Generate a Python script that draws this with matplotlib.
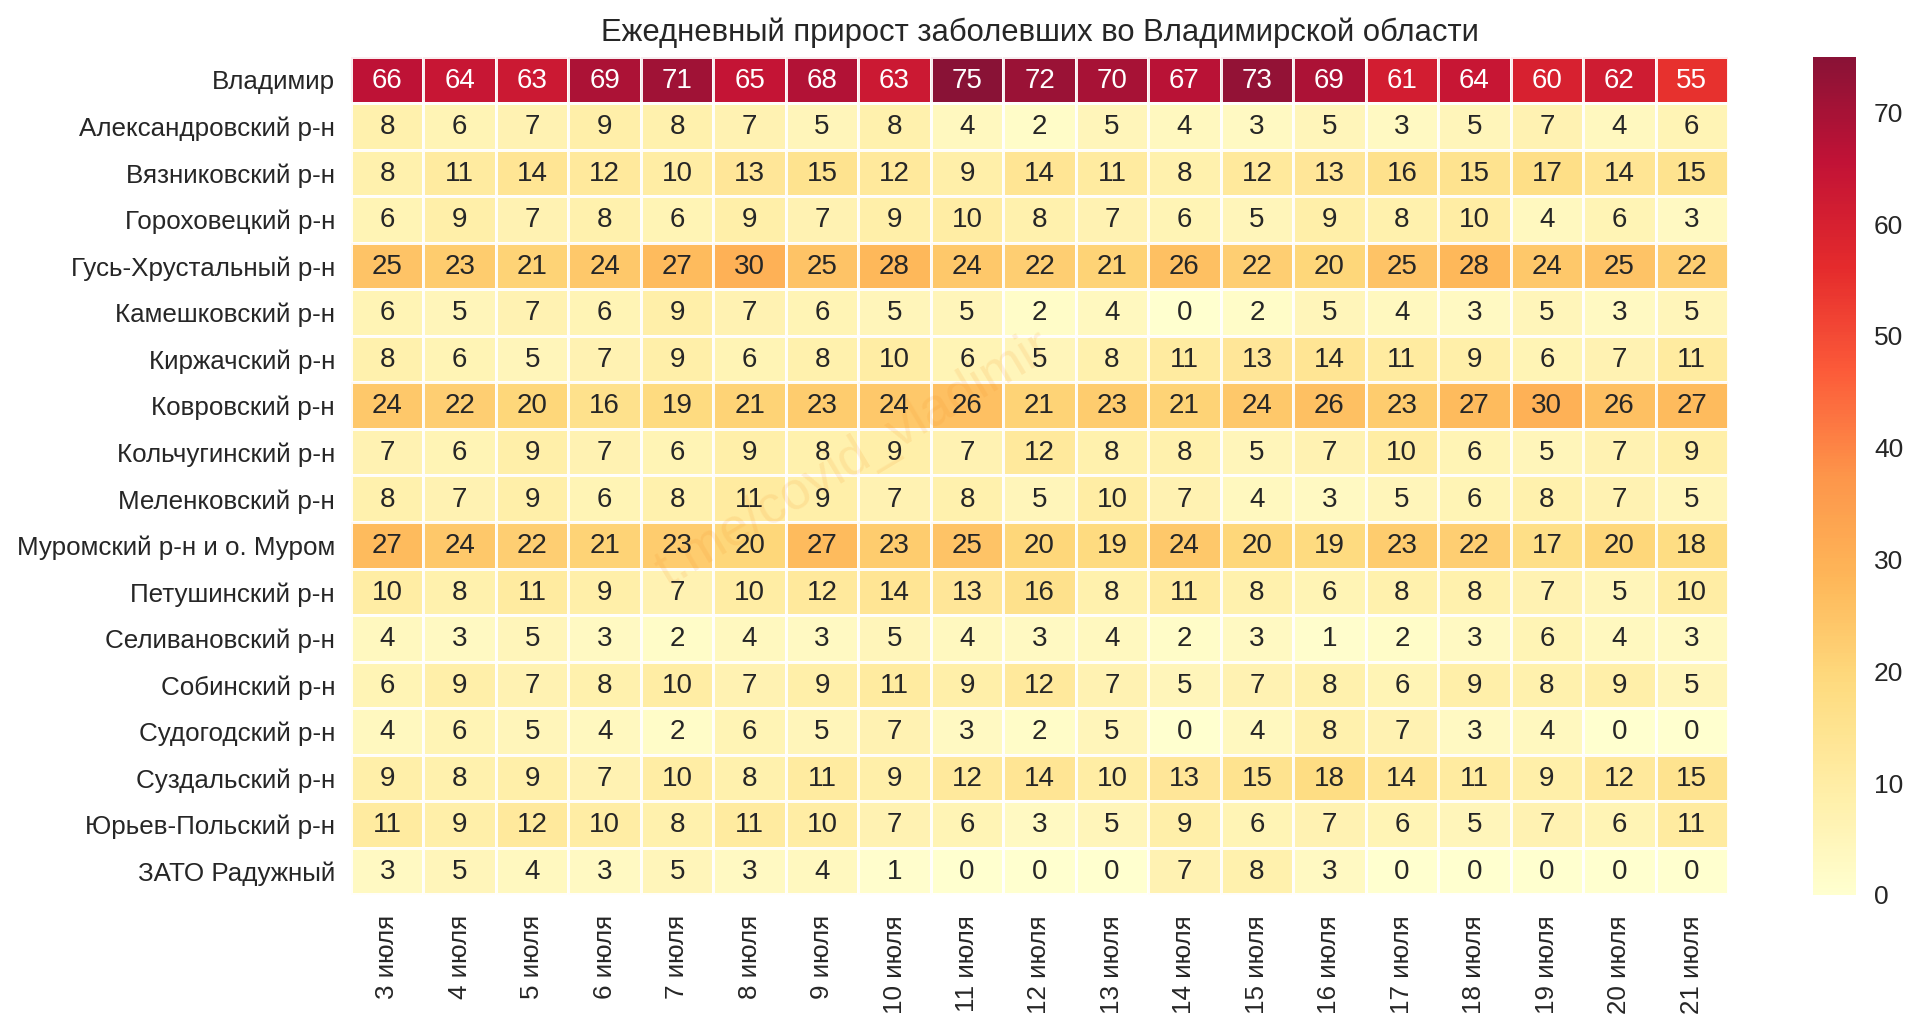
import matplotlib
matplotlib.use("Agg")
import matplotlib.pyplot as plt
from matplotlib.transforms import ScaledTranslation
import numpy as np
import pandas as pd
import seaborn as sns

districts = ["Владимир", "Александровский р-н", "Вязниковский р-н", "Гороховецкий р-н",
             "Гусь-Хрустальный р-н", "Камешковский р-н", "Киржачский р-н", "Ковровский р-н",
             "Кольчугинский р-н", "Меленковский р-н", "Муромский р-н и о. Муром", "Петушинский р-н",
             "Селивановский р-н", "Собинский р-н", "Судогодский р-н", "Суздальский р-н",
             "Юрьев-Польский р-н", "ЗАТО Радужный"]
dates = ["3 июля", "4 июля", "5 июля", "6 июля", "7 июля", "8 июля", "9 июля", "10 июля", "11 июля",
         "12 июля", "13 июля", "14 июля", "15 июля", "16 июля", "17 июля", "18 июля", "19 июля",
         "20 июля", "21 июля"]
vladimir = [66, 64, 63, 69, 71, 65, 68, 63, 75, 72, 70, 67, 73, 69, 61, 64, 60, 62, 55]
alexandrov = [8, 6, 7, 9, 8, 7, 5, 8, 4, 2, 5, 4, 3, 5, 3, 5, 7, 4, 6]
vyazniki = [8, 11, 14, 12, 10, 13, 15, 12, 9, 14, 11, 8, 12, 13, 16, 15, 17, 14, 15]
gorokhovets = [6, 9, 7, 8, 6, 9, 7, 9, 10, 8, 7, 6, 5, 9, 8, 10, 4, 6, 3]
gus = [25, 23, 21, 24, 27, 30, 25, 28, 24, 22, 21, 26, 22, 20, 25, 28, 24, 25, 22]
kameshkovo = [6, 5, 7, 6, 9, 7, 6, 5, 5, 2, 4, 0, 2, 5, 4, 3, 5, 3, 5]
kirzhach = [8, 6, 5, 7, 9, 6, 8, 10, 6, 5, 8, 11, 13, 14, 11, 9, 6, 7, 11]
kovrov = [24, 22, 20, 16, 19, 21, 23, 24, 26, 21, 23, 21, 24, 26, 23, 27, 30, 26, 27]
kolchugino = [7, 6, 9, 7, 6, 9, 8, 9, 7, 12, 8, 8, 5, 7, 10, 6, 5, 7, 9]
melenki = [8, 7, 9, 6, 8, 11, 9, 7, 8, 5, 10, 7, 4, 3, 5, 6, 8, 7, 5]
murom = [27, 24, 22, 21, 23, 20, 27, 23, 25, 20, 19, 24, 20, 19, 23, 22, 17, 20, 18]
petushki = [10, 8, 11, 9, 7, 10, 12, 14, 13, 16, 8, 11, 8, 6, 8, 8, 7, 5, 10]
selivanovo = [4, 3, 5, 3, 2, 4, 3, 5, 4, 3, 4, 2, 3, 1, 2, 3, 6, 4, 3]
sobinka = [6, 9, 7, 8, 10, 7, 9, 11, 9, 12, 7, 5, 7, 8, 6, 9, 8, 9, 5]
sudogda = [4, 6, 5, 4, 2, 6, 5, 7, 3, 2, 5, 0, 4, 8, 7, 3, 4, 0, 0]
suzdal = [9, 8, 9, 7, 10, 8, 11, 9, 12, 14, 10, 13, 15, 18, 14, 11, 9, 12, 15]
yuryev = [11, 9, 12, 10, 8, 11, 10, 7, 6, 3, 5, 9, 6, 7, 6, 5, 7, 6, 11]
raduzhny = [3, 5, 4, 3, 5, 3, 4, 1, 0, 0, 0, 7, 8, 3, 0, 0, 0, 0, 0]

rows = [vladimir, alexandrov, vyazniki, gorokhovets, gus, kameshkovo, kirzhach, kovrov, kolchugino,
        melenki, murom, petushki, selivanovo, sobinka, sudogda, suzdal, yuryev, raduzhny]
table = pd.DataFrame(rows, index=districts, columns=dates)

sns.set_theme(style="white")
plt.rcParams["font.family"] = ["Liberation Sans", "DejaVu Sans"]
W, H = 1920, 1030
fig = plt.figure(figsize=(W / 100, H / 100), dpi=100)
ax = fig.add_axes([351 / W, 1 - 894.5 / H, (1728 - 351) / W, (894.5 - 56.5) / H])
cax = fig.add_axes([1813 / W, 1 - 895 / H, 43 / W, (895 - 56.5) / H])

sns.heatmap(table, ax=ax, cbar_ax=cax, cmap="YlOrRd", vmin=0, vmax=75, alpha=0.93, annot=True, fmt="d",
            annot_kws={"fontsize": 20}, linewidths=2, linecolor="white",
            cbar_kws={"ticks": [0, 10, 20, 30, 40, 50, 60, 70]})
ax.set_title("Ежедневный прирост заболевших во Владимирской области", fontsize=22.3, color="#262626", pad=11)
ax.tick_params(axis="both", length=0, labelsize=18.75, labelcolor="#262626")
ax.tick_params(axis="x", pad=15)
ax.tick_params(axis="y", pad=11.5)
plt.setp(ax.get_xticklabels(), rotation=90)
plt.setp(ax.get_yticklabels(), rotation=0)
down = ScaledTranslation(0, -2.5 / 100, fig.dpi_scale_trans)
for label in ax.get_yticklabels():
    label.set_transform(label.get_transform() + down)
nudge = ScaledTranslation(0, -0.8 / 100, fig.dpi_scale_trans)
for label in ax.texts:
    label.set_transform(label.get_transform() + nudge)
cax.tick_params(length=0, labelsize=19, labelcolor="#262626", pad=13)
ax.text(0.365, 0.519, "t.me/covid_vladimir", transform=ax.transAxes, fontsize=38, color="#f58a1f",
        alpha=0.13, rotation=31, ha="center", va="center", zorder=1.5)
fig.savefig("out.png", dpi=100, facecolor="white")
